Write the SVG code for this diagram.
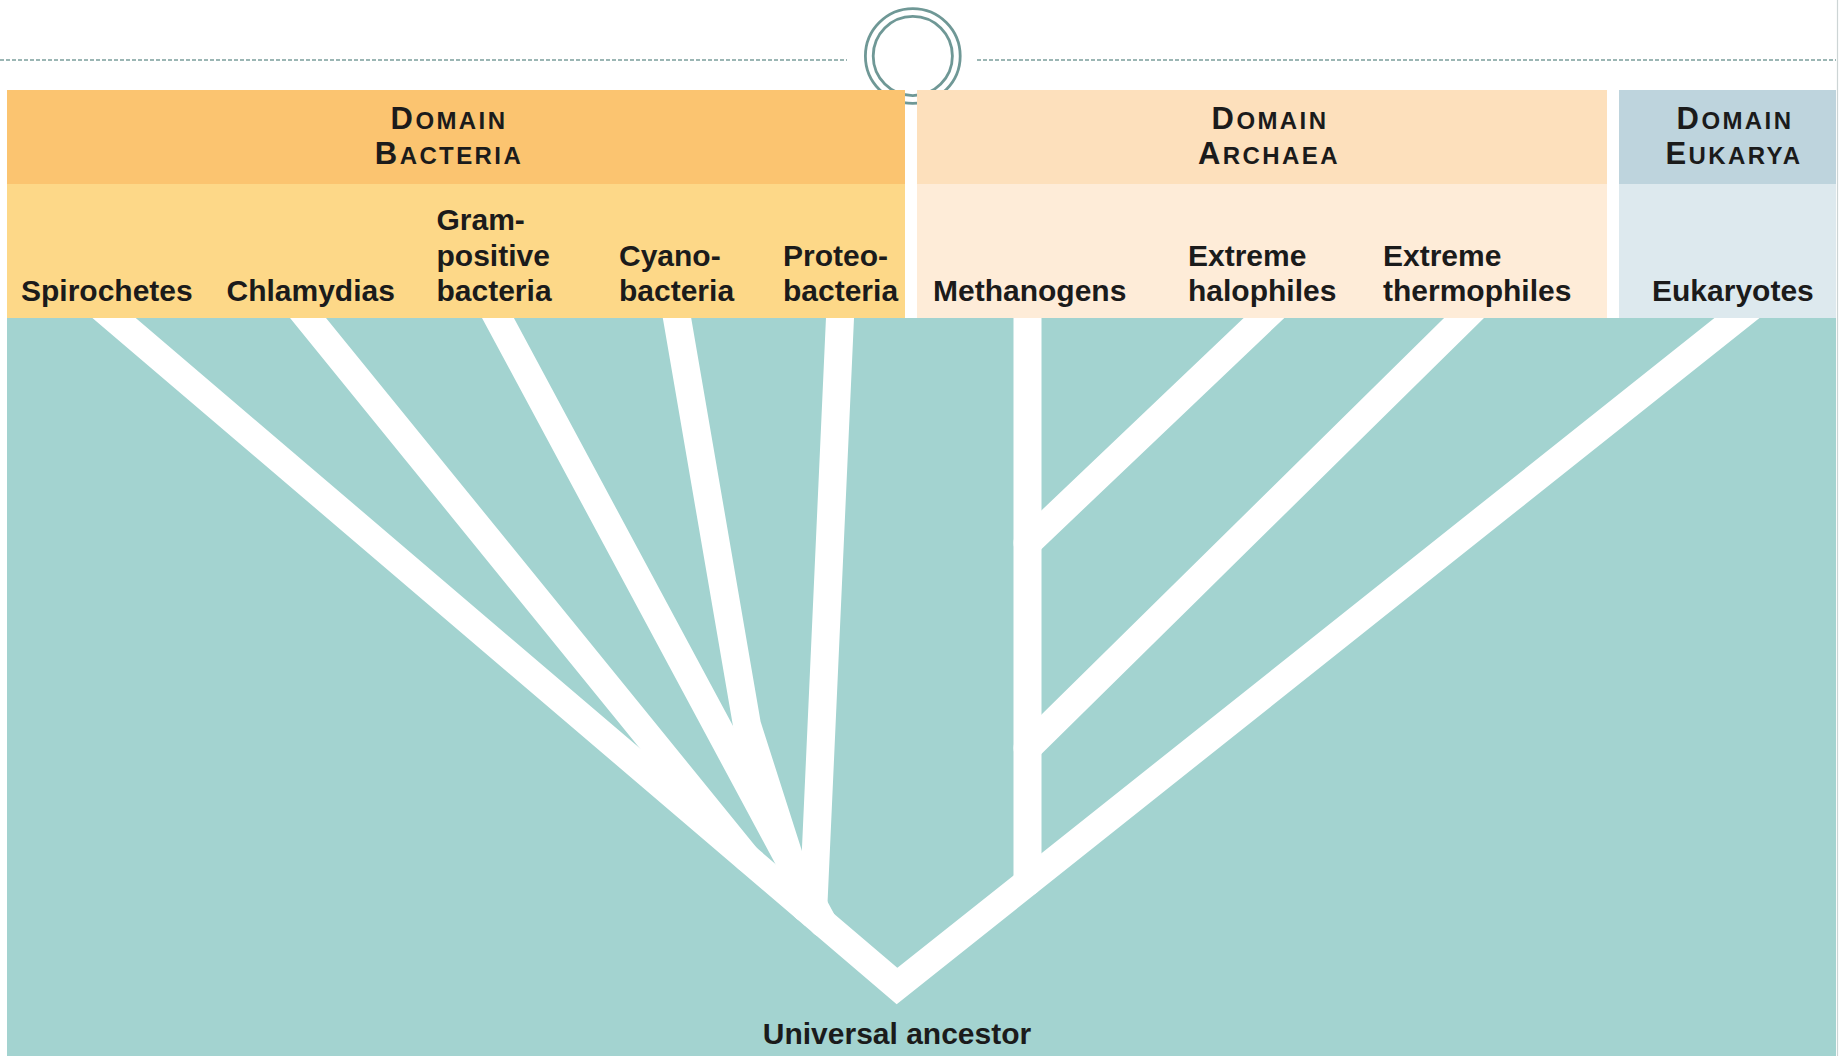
<svg xmlns="http://www.w3.org/2000/svg" width="1839" height="1056" viewBox="0 0 1839 1056">
<style>
.lbl{font-family:"Liberation Sans",Arial,Helvetica,sans-serif;font-weight:bold;font-size:30px;fill:#1b1b1b}
.dom{font-family:"Liberation Sans",Arial,Helvetica,sans-serif;font-weight:bold;font-size:24px;fill:#1b1b1b;text-anchor:middle;letter-spacing:2.4px}
.cap{font-size:31px}
.br{fill:none;stroke:#ffffff;stroke-width:28;stroke-linecap:round;stroke-linejoin:round}
.trunk{fill:none;stroke:#ffffff;stroke-width:28;stroke-linecap:round;stroke-linejoin:miter}
.dash{stroke:#7b9e9c;stroke-width:1.4;stroke-dasharray:4 2;fill:none}
.ring{fill:none;stroke:#6f9896;stroke-width:2.8}
</style>
<rect width="1839" height="1056" fill="#ffffff"/>
<g id="slide-decor">
<line class="dash" x1="0" y1="60" x2="847" y2="60"/>
<line class="dash" x1="977" y1="60" x2="1836" y2="60"/>
<circle class="ring" cx="912.8" cy="56" r="47.4"/>
<circle class="ring" cx="912.8" cy="56" r="39.6"/>
<line x1="1837.5" y1="0" x2="1837.5" y2="1056" stroke="#cdd5d5" stroke-width="1.2"/>
</g>
<rect id="tree-field" x="7" y="318" width="1829" height="738" fill="#a3d3d0"/>
<g id="connectors">
<polyline class="trunk" points="93,300 897,986 1759.6,300"/>
<line class="br" x1="293.4" y1="300" x2="747" y2="858"/>
<line class="br" x1="488.3" y1="300" x2="823" y2="923"/>
<polyline class="br" points="673.9,300 747,725 805.5,908"/>
<line class="br" x1="840.8" y1="300" x2="813" y2="914"/>
<line class="br" x1="1027.5" y1="300" x2="1027.5" y2="882"/>
<line class="br" x1="1282.9" y1="300" x2="1027.5" y2="543"/>
<line class="br" x1="1482.3" y1="300" x2="1027.5" y2="748"/>
</g>
<g id="domain-bacteria">
<rect x="7" y="90" width="898" height="94" fill="#fbc470"/>
<rect x="7" y="184" width="898" height="134" fill="#fdd888"/>
<text class="dom" x="449" y="129"><tspan class="cap">D</tspan>OMAIN</text>
<text class="dom" x="449" y="164"><tspan class="cap">B</tspan>ACTERIA</text>
</g>
<g id="domain-archaea">
<rect x="917" y="90" width="690" height="94" fill="#fde0bc"/>
<rect x="917" y="184" width="690" height="134" fill="#feecd8"/>
<text class="dom" x="1270" y="129"><tspan class="cap">D</tspan>OMAIN</text>
<text class="dom" x="1269" y="164"><tspan class="cap">A</tspan>RCHAEA</text>
</g>
<g id="domain-eukarya">
<rect x="1619" y="90" width="217" height="94" fill="#bed4dd"/>
<rect x="1619" y="184" width="217" height="134" fill="#dde9ee"/>
<text class="dom" x="1735" y="129"><tspan class="cap">D</tspan>OMAIN</text>
<text class="dom" x="1734" y="164"><tspan class="cap">E</tspan>UKARYA</text>
</g>
<g id="node-spirochetes"><text class="lbl" x="21" y="301">Spirochetes</text></g>
<g id="node-chlamydias"><text class="lbl" x="226.5" y="301">Chlamydias</text></g>
<g id="node-gram-positive"><text class="lbl" x="436.5" y="230">Gram-</text><text class="lbl" x="436.5" y="265.5">positive</text><text class="lbl" x="436.5" y="301">bacteria</text></g>
<g id="node-cyanobacteria"><text class="lbl" x="619" y="265.5">Cyano-</text><text class="lbl" x="619" y="301">bacteria</text></g>
<g id="node-proteobacteria"><text class="lbl" x="783" y="265.5">Proteo-</text><text class="lbl" x="783" y="301">bacteria</text></g>
<g id="node-methanogens"><text class="lbl" x="933" y="301">Methanogens</text></g>
<g id="node-halophiles"><text class="lbl" x="1188" y="265.5">Extreme</text><text class="lbl" x="1188" y="301">halophiles</text></g>
<g id="node-thermophiles"><text class="lbl" x="1383" y="265.5">Extreme</text><text class="lbl" x="1383" y="301">thermophiles</text></g>
<g id="node-eukaryotes"><text class="lbl" x="1652" y="301">Eukaryotes</text></g>
<g id="node-universal-ancestor"><text class="lbl" x="897" y="1044" text-anchor="middle">Universal ancestor</text></g>
</svg>
